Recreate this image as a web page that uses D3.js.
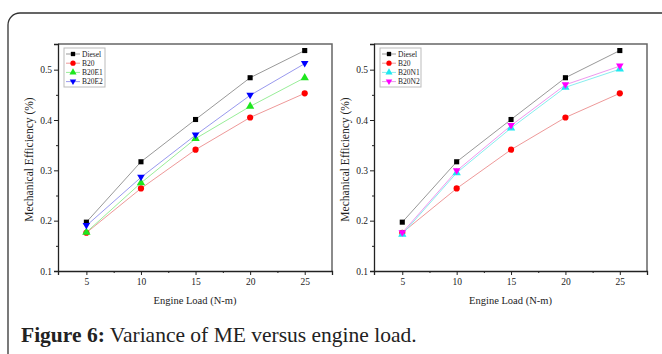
<!DOCTYPE html>
<html>
<head>
<meta charset="utf-8">
<script src="https://cdn.jsdelivr.net/npm/d3@7"></script>
<style>
  body { margin: 0; background: #fff; }
  svg { display: block; }
  text { font-family: "Liberation Serif", "DejaVu Serif", serif; fill: #222; }
</style>
</head>
<body>
<svg id="chart" width="662" height="354"></svg>
<script>
// data
const loads = [5, 10, 15, 20, 25];
const diesel = [0.197, 0.317, 0.401, 0.484, 0.538];
const b20 = [0.176, 0.264, 0.341, 0.405, 0.453];
const b20e1 = [0.177, 0.275, 0.363, 0.427, 0.484];
const b20e2 = [0.190, 0.286, 0.370, 0.449, 0.512];
const b20n1 = [0.173, 0.295, 0.384, 0.465, 0.501];
const b20n2 = [0.176, 0.299, 0.389, 0.470, 0.507];
const xTicks = [5, 10, 15, 20, 25];
const yTicks = [0.1, 0.2, 0.3, 0.4, 0.5];

const leftSeries = [
  { name: 'Diesel', values: diesel, marker: 'square', fill: '#000', line: '#999' },
  { name: 'B20', values: b20, marker: 'circle', fill: '#f00', line: '#e99' },
  { name: 'B20E1', values: b20e1, marker: 'up', fill: '#1ee61e', line: '#9e9' },
  { name: 'B20E2', values: b20e2, marker: 'down', fill: '#00f', line: '#99e' }
];
const rightSeries = [
  { name: 'Diesel', values: diesel, marker: 'square', fill: '#000', line: '#999' },
  { name: 'B20', values: b20, marker: 'circle', fill: '#f00', line: '#e99' },
  { name: 'B20N1', values: b20n1, marker: 'up', fill: '#1ee8f0', line: '#8ee' },
  { name: 'B20N2', values: b20n2, marker: 'down', fill: '#f0f', line: '#e9e' }
];

const svg = d3.select('#chart');

// rounded frame around the figure
svg.append('rect')
    .attr('x', 8).attr('y', 13)
    .attr('width', 700).attr('height', 360)
    .attr('rx', 12)
    .attr('fill', 'none')
    .attr('stroke', '#333')
    .attr('stroke-width', 1.3);

function markerPath(type) {
  if (type === 'square') return d3.symbol(d3.symbolSquare, 26)();
  if (type === 'circle') return d3.symbol(d3.symbolCircle, 30)();
  if (type === 'up') return d3.symbol(d3.symbolTriangle, 30)();
  return 'M-3.8,-2.6L3.8,-2.6L0,3.9Z';
}

function drawPanel(left, right, series) {
  const top = 44, bottom = 271;
  const x = d3.scaleLinear().domain([2.4, 27.5]).range([left, right]);
  const y = d3.scaleLinear().domain([0.1, 0.551]).range([bottom, top]);
  const g = svg.append('g');

  // top and right border
  g.append('path')
      .attr('d', `M${left},${top}H${right}V${bottom}`)
      .attr('fill', 'none')
      .attr('stroke', '#666')
      .attr('stroke-width', 1.5);

  // axes
  const xAxis = d3.axisBottom(x).tickValues(xTicks).tickSize(4).tickPadding(3).tickFormat(d3.format('d'));
  const yAxis = d3.axisLeft(y).tickValues(yTicks).tickSize(4).tickPadding(2).tickFormat(d3.format('.1f'));

  const xg = g.append('g').attr('transform', `translate(0,${bottom})`).call(xAxis);
  const yg = g.append('g').attr('transform', `translate(${left},0)`).call(yAxis);
  [xg, yg].forEach(a => {
    a.attr('font-family', '"Liberation Serif", serif').attr('font-size', 9.5);
    a.select('.domain').attr('stroke', '#222').attr('stroke-width', 1.3);
    a.selectAll('.tick line').attr('stroke', '#222');
    a.selectAll('.tick text').attr('fill', '#222');
  });
  // minor ticks
  g.append('g').attr('transform', `translate(0,${bottom})`)
      .call(d3.axisBottom(x).tickValues([7.5, 12.5, 17.5, 22.5]).tickSize(2).tickFormat(''))
      .call(a => a.select('.domain').remove())
      .selectAll('line').attr('stroke', '#222');
  g.append('g').attr('transform', `translate(${left},0)`)
      .call(d3.axisLeft(y).tickValues([0.15, 0.25, 0.35, 0.45]).tickSize(2).tickFormat(''))
      .call(a => a.select('.domain').remove())
      .selectAll('line').attr('stroke', '#222');

  // titles
  g.append('text')
      .attr('x', (left + right) / 2).attr('y', 304)
      .attr('text-anchor', 'middle')
      .attr('font-size', 10.5)
      .text('Engine Load (N-m)');
  g.append('text')
      .attr('transform', `translate(${left - 25},${(top + bottom) / 2 + 2}) rotate(-90)`)
      .attr('text-anchor', 'middle')
      .attr('font-size', 11.5)
      .text('Mechanical Efficiency (%)');

  // lines + markers
  const line = d3.line().x((d, i) => x(loads[i])).y(d => y(d));
  series.forEach(s => {
    g.append('path')
        .attr('d', line(s.values))
        .attr('fill', 'none')
        .attr('stroke', s.line)
        .attr('stroke-width', 1);
  });
  series.forEach(s => {
    g.selectAll(null).data(s.values).join('path')
        .attr('d', markerPath(s.marker))
        .attr('transform', (d, i) => `translate(${x(loads[i])},${y(d)})`)
        .attr('fill', s.fill);
  });

  // legend
  const lx = left + 6, ly = top + 4;
  g.append('rect')
      .attr('x', lx).attr('y', ly)
      .attr('width', 41).attr('height', 39)
      .attr('fill', '#fff')
      .attr('stroke', '#bbb')
      .attr('stroke-width', 1);
  series.forEach((s, i) => {
    const yy = ly + 6 + i * 9.2;
    g.append('line')
        .attr('x1', lx + 2).attr('x2', lx + 16)
        .attr('y1', yy).attr('y2', yy)
        .attr('stroke', s.line);
    g.append('path')
        .attr('d', markerPath(s.marker))
        .attr('transform', `translate(${lx + 9},${yy}) scale(0.85)`)
        .attr('fill', s.fill);
    g.append('text')
        .attr('x', lx + 18).attr('y', yy + 2.5)
        .attr('font-size', 7.5)
        .text(s.name);
  });
}

drawPanel(58, 332, leftSeries);
drawPanel(374, 647, rightSeries);

// caption
const cap = svg.append('text')
    .attr('x', 21).attr('y', 342)
    .attr('font-size', 21.5)
    .attr('fill', '#222');
cap.append('tspan').attr('font-weight', 'bold').text('Figure 6:');
cap.append('tspan').text(' Variance of ME versus engine load.');
</script>
</body>
</html>
